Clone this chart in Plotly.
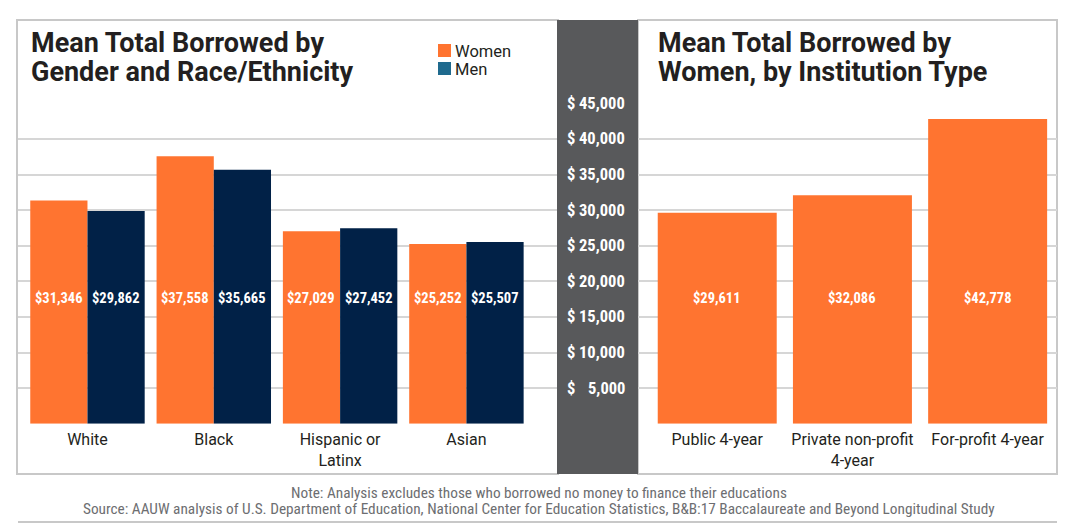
import plotly.graph_objects as go

# ---- data ----
race_categories = ["White", "Black", "Hispanic or<br>Latinx", "Asian"]
women_by_race = [31346, 37558, 27029, 25252]
men_by_race = [29862, 35665, 27452, 25507]

inst_categories = ["Public 4-year", "Private non-profit<br>4-year", "For-profit 4-year"]
women_by_inst = [29611, 32086, 42778]

tick_values = [5000, 10000, 15000, 20000, 25000, 30000, 35000, 40000, 45000]
label_level = 17650  # y level where the value labels sit

left_title = ["Mean Total Borrowed by", "Gender and Race/Ethnicity"]
right_title = ["Mean Total Borrowed by", "Women, by Institution Type"]
notes = ["Note: Analysis excludes those who borrowed no money to finance their educations",
         "Source: AAUW analysis of U.S. Department of Education, National Center for Education Statistics, "
         "B&B:17 Baccalaureate and Beyond Longitudinal Study"]

ORANGE = "#FF7430"
NAVY = "#012147"
LEGEND_MEN = "#1F6A8E"
BAND = "#58595B"
FRAME = "#C8C8C8"
GRID = "#D6D6D6"
TITLE = "#231F20"
FONT = "Roboto"
NARROW = "Roboto Condensed, Roboto"

W, H = 1080, 526
def px(x):
    return x / W
def py(y):
    return 1 - y / H

fig = go.Figure()

bw = 0.453
fig.add_trace(go.Bar(x=race_categories, y=women_by_race, name="Women",
                     marker=dict(color=ORANGE, line=dict(width=0)),
                     width=bw, offset=-bw, xaxis="x", yaxis="y", showlegend=False))
fig.add_trace(go.Bar(x=race_categories, y=men_by_race, name="Men",
                     marker=dict(color=NAVY, line=dict(width=0)),
                     width=bw, offset=0, xaxis="x", yaxis="y", showlegend=False))
fig.add_trace(go.Bar(x=inst_categories, y=women_by_inst, name="Women",
                     marker=dict(color=ORANGE, line=dict(width=0)),
                     width=0.88, xaxis="x2", yaxis="y2", showlegend=False))

ydom = [py(423.7), py(103.3)]
axis_common = dict(showgrid=False, zeroline=False, showline=False, ticks="",
                   tickfont=dict(family=FONT, size=16, color=TITLE), ticklabelstandoff=4)
yaxis_common = dict(range=[0, 45000], tickvals=[0] + tick_values, showticklabels=False,
                    showgrid=True, gridcolor=GRID, gridwidth=2, zeroline=False,
                    showline=False, ticks="", fixedrange=True)

fig.update_layout(
    width=W, height=H,
    margin=dict(l=0, r=0, t=0, b=0),
    paper_bgcolor="white", plot_bgcolor="white",
    xaxis=dict(domain=[px(18), px(558)], range=[-0.55, 3.725], type="category", **axis_common),
    xaxis2=dict(domain=[px(638), px(1057)], range=[-0.586, 2.513], type="category", **axis_common),
    yaxis=dict(domain=ydom, anchor="x", **yaxis_common),
    yaxis2=dict(domain=ydom, anchor="x2", **yaxis_common),
    showlegend=False,
)

shapes = []
shapes.append(dict(type="rect", xref="paper", yref="paper", x0=px(17), x1=px(558),
                   y0=py(474), y1=py(20), line=dict(color=FRAME, width=2), layer="below"))
shapes.append(dict(type="rect", xref="paper", yref="paper", x0=px(638), x1=px(1057),
                   y0=py(474), y1=py(20), line=dict(color=FRAME, width=2), layer="below"))
shapes.append(dict(type="rect", xref="paper", yref="paper", x0=px(557), x1=px(638),
                   y0=py(474), y1=py(20), fillcolor=BAND, line=dict(width=0), layer="above"))
shapes.append(dict(type="line", xref="paper", yref="paper", x0=px(18), x1=px(1057),
                   y0=py(522), y1=py(522), line=dict(color=FRAME, width=2)))
shapes.append(dict(type="rect", xref="paper", yref="paper", x0=px(438), x1=px(451),
                   y0=py(57), y1=py(44), fillcolor=ORANGE, line=dict(width=0)))
shapes.append(dict(type="rect", xref="paper", yref="paper", x0=px(438), x1=px(451),
                   y0=py(75), y1=py(62), fillcolor=LEGEND_MEN, line=dict(width=0)))
fig.update_layout(shapes=shapes)

ann = []
for k, line in enumerate(left_title):
    ann.append(dict(text="<b>%s</b>" % line, xref="paper", yref="paper", x=px(29), y=py(43 + 29 * k),
                    xanchor="left", yanchor="middle", showarrow=False,
                    font=dict(family=FONT, size=27, color=TITLE)))
for k, line in enumerate(right_title):
    ann.append(dict(text="<b>%s</b>" % line, xref="paper", yref="paper", x=px(656), y=py(43 + 29 * k),
                    xanchor="left", yanchor="middle", showarrow=False,
                    font=dict(family=FONT, size=27, color=TITLE)))
ann.append(dict(text="Women", xref="paper", yref="paper", x=px(453), y=py(51), xanchor="left",
                yanchor="middle", showarrow=False, font=dict(family=FONT, size=16.5, color=TITLE)))
ann.append(dict(text="Men", xref="paper", yref="paper", x=px(453), y=py(69), xanchor="left",
                yanchor="middle", showarrow=False, font=dict(family=FONT, size=16.5, color=TITLE)))
for v in tick_values:
    ann.append(dict(text="<b>$</b>", xref="paper", yref="y", x=px(565), y=v, xanchor="left",
                    yanchor="middle", showarrow=False, font=dict(family=NARROW, size=16.5, color="white")))
    ann.append(dict(text="<b>{:,}</b>".format(v), xref="paper", yref="y", x=px(627), y=v,
                    xanchor="right", yanchor="middle", showarrow=False,
                    font=dict(family=NARROW, size=16.5, color="white")))
for i, (w, m) in enumerate(zip(women_by_race, men_by_race)):
    ann.append(dict(text="<b>${:,}</b>".format(w), xref="x", yref="y", x=i - bw / 2, y=label_level,
                    showarrow=False, font=dict(family=NARROW, size=14.5, color="white")))
    ann.append(dict(text="<b>${:,}</b>".format(m), xref="x", yref="y", x=i + bw / 2, y=label_level,
                    showarrow=False, font=dict(family=NARROW, size=14.5, color="white")))
for i, w in enumerate(women_by_inst):
    ann.append(dict(text="<b>${:,}</b>".format(w), xref="x2", yref="y2", x=i, y=label_level,
                    showarrow=False, font=dict(family=NARROW, size=14.5, color="white")))
for k, line in enumerate(notes):
    ann.append(dict(text=line, xref="paper", yref="paper", x=px(539), y=py(493 + 16 * k),
                    xanchor="center", yanchor="middle", showarrow=False,
                    font=dict(family=NARROW, size=15.3, color="#6D6E71")))
fig.update_layout(annotations=ann)

fig.write_html("out.html", config={"displayModeBar": False},
               post_script="document.body.style.margin='0';document.body.style.overflow='hidden';")
